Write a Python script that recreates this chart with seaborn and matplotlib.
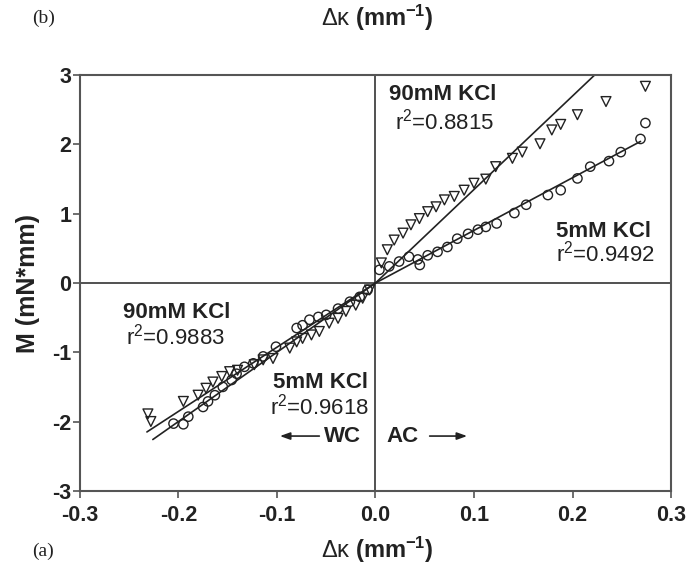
import numpy as np
import pandas as pd
import matplotlib
matplotlib.use("Agg")
import matplotlib.pyplot as plt
import seaborn as sns

# ---- data ----
# 90 mM KCl, positive curvature (triangles)
tri_pos_x = [0.274, 0.234, 0.205, 0.188, 0.179, 0.167, 0.149, 0.139, 0.122, 0.112,
             0.100, 0.090, 0.080, 0.070, 0.0615, 0.053, 0.0446, 0.036, 0.028, 0.019,
             0.012, 0.006]
tri_pos_y = [2.84, 2.62, 2.43, 2.29, 2.21, 2.01, 1.89, 1.80, 1.68, 1.50,
             1.44, 1.34, 1.25, 1.20, 1.10, 1.03, 0.93, 0.84, 0.72, 0.62,
             0.48, 0.29]
# 5 mM KCl, positive curvature (circles)
cir_pos_x = [0.274, 0.269, 0.249, 0.237, 0.218, 0.205, 0.188, 0.175, 0.153, 0.141,
             0.123, 0.112, 0.104, 0.094, 0.083, 0.073, 0.063, 0.053, 0.043, 0.045,
             0.034, 0.024, 0.014, 0.004]
cir_pos_y = [2.31, 2.08, 1.89, 1.76, 1.68, 1.51, 1.34, 1.27, 1.13, 1.01,
             0.86, 0.81, 0.77, 0.71, 0.64, 0.52, 0.45, 0.40, 0.34, 0.26,
             0.38, 0.31, 0.24, 0.19]
# 90 mM KCl, negative curvature (triangles)
tri_neg_x = [-0.231, -0.228, -0.195, -0.180, -0.172, -0.165, -0.156, -0.148, -0.140,
             -0.123, -0.114, -0.104, -0.087, -0.080, -0.074, -0.065, -0.057, -0.047,
             -0.038, -0.030, -0.020, -0.013, -0.006]
tri_neg_y = [-1.89, -2.00, -1.71, -1.62, -1.52, -1.43, -1.35, -1.28, -1.26,
             -1.18, -1.11, -1.09, -0.94, -0.85, -0.80, -0.75, -0.70, -0.58,
             -0.51, -0.41, -0.32, -0.22, -0.10]
# 5 mM KCl, negative curvature (circles)
cir_neg_x = [-0.205, -0.195, -0.190, -0.175, -0.170, -0.163, -0.155, -0.146, -0.141,
             -0.133, -0.124, -0.114, -0.101, -0.080, -0.074, -0.067, -0.058, -0.050,
             -0.038, -0.026, -0.016, -0.008]
cir_neg_y = [-2.03, -2.04, -1.93, -1.79, -1.71, -1.62, -1.50, -1.40, -1.31,
             -1.21, -1.16, -1.06, -0.92, -0.65, -0.61, -0.53, -0.49, -0.46,
             -0.37, -0.27, -0.20, -0.10]

# regression lines (through origin): slope and x-extent
fit_names = ["90mM pos", "5mM pos", "90mM neg", "5mM neg"]
fit_slopes = [13.5, 7.6, 9.27, 10.0]
fit_x_start = [0.0, 0.0, -0.232, -0.226]
fit_x_end = [0.23, 0.269, 0.0, 0.0]

x_ticks = [-0.3, -0.2, -0.1, 0.0, 0.1, 0.2, 0.3]
x_tick_labels = ["-0.3", "-0.2", "-0.1", "0.0", "0.1", "0.2", "0.3"]
y_ticks = [-3, -2, -1, 0, 1, 2, 3]
y_tick_labels = ["-3", "-2", "-1", "0", "1", "2", "3"]

# ---- style ----
sns.set_theme(style="white")
plt.rcParams["font.family"] = ["Liberation Sans", "DejaVu Sans"]
plt.rcParams["mathtext.fontset"] = "custom"
plt.rcParams["mathtext.rm"] = "Liberation Sans"
plt.rcParams["mathtext.it"] = "Liberation Sans:italic"
plt.rcParams["mathtext.bf"] = "Liberation Sans:bold"

fig = plt.figure(figsize=(6.95, 5.70), dpi=100)
ax = fig.add_axes([0.115, 0.139, 0.8505, 0.729])

spine_col = "#555555"
ink = "#222222"
ax.axhline(0, color="#333333", lw=1.2, zorder=1)
ax.axvline(0, color="#333333", lw=1.2, zorder=1)

for xs, ys, mk, sz in [(tri_pos_x, tri_pos_y, "v", 50), (cir_pos_x, cir_pos_y, "o", 45),
                       (tri_neg_x, tri_neg_y, "v", 50), (cir_neg_x, cir_neg_y, "o", 45)]:
    df = pd.DataFrame({"x": xs, "y": ys})
    sns.scatterplot(data=df, x="x", y="y", marker=mk, s=sz, facecolors="none",
                    edgecolor=ink, linewidth=1.0, ax=ax, zorder=3)

for name, k, x0, x1 in zip(fit_names, fit_slopes, fit_x_start, fit_x_end):
    xs = np.array([x0, x1])
    dfl = pd.DataFrame({"x": xs, "y": k * xs})
    sns.lineplot(data=dfl, x="x", y="y", color=ink, lw=1.2, ax=ax, zorder=2)

ax.set_xlim(-0.3, 0.3)
ax.set_ylim(-3, 3)
ax.set_xticks(x_ticks)
ax.set_xticklabels(x_tick_labels)
ax.set_yticks(y_ticks)
ax.set_yticklabels(y_tick_labels)
for lab in ax.get_xticklabels() + ax.get_yticklabels():
    lab.set_fontweight("bold")
    lab.set_fontsize(15.5)
    lab.set_color(ink)
ax.tick_params(axis="both", which="both", direction="out", length=5, width=1.2,
               color=spine_col, bottom=True, left=True)
ax.tick_params(axis="x", pad=5)
ax.tick_params(axis="y", pad=1)
for sp in ax.spines.values():
    sp.set_color(spine_col)
    sp.set_linewidth(1.5)

ax.set_xlabel("")
ax.set_ylabel("M (mN*mm)", fontsize=18, fontweight="bold", labelpad=9, color=ink)

# annotations
bold_kw = dict(fontsize=16, fontweight="bold", color=ink)
reg_kw = dict(fontsize=16, color=ink)
ax.text(0.0135, 2.72, "90mM KCl", ha="left", va="center", **bold_kw)
ax.text(0.0195, 2.33, r"r$^{2}$=0.8815", ha="left", va="center", **reg_kw)
ax.text(0.183, 0.75, "5mM KCl", ha="left", va="center", **bold_kw)
ax.text(0.183, 0.42, r"r$^{2}$=0.9492", ha="left", va="center", **reg_kw)
ax.text(-0.256, -0.43, "90mM KCl", ha="left", va="center", **bold_kw)
ax.text(-0.253, -0.77, r"r$^{2}$=0.9883", ha="left", va="center", **reg_kw)
ax.text(-0.104, -1.43, "5mM KCl", ha="left", va="center", **bold_kw)
ax.text(-0.107, -1.78, r"r$^{2}$=0.9618", ha="left", va="center", **reg_kw)
ax.text(-0.052, -2.21, "WC", ha="left", va="center", **bold_kw)
ax.text(0.011, -2.21, "AC", ha="left", va="center", **bold_kw)
arrow_kw = dict(arrowstyle="-|>,head_length=0.5,head_width=0.18", lw=1.2, color=ink,
                shrinkA=0, shrinkB=0)
ax.annotate("", xy=(-0.097, -2.21), xytext=(-0.057, -2.21), arrowprops=arrow_kw)
ax.annotate("", xy=(0.093, -2.21), xytext=(0.055, -2.21), arrowprops=arrow_kw)

# outer labels
serif = ["Liberation Serif", "DejaVu Serif"]
fig.text(0.046, 0.968, "(b)", ha="left", va="center", fontsize=14, family=serif, color=ink)
fig.text(0.046, 0.032, "(a)", ha="left", va="center", fontsize=14, family=serif, color=ink)
klabel = r"$\mathrm{\Delta\kappa}$ (mm$^{\mathbf{-1}}$)"
fig.text(0.543, 0.968, klabel, ha="center", va="center", fontsize=17,
         fontweight="bold", color=ink)
fig.text(0.543, 0.035, klabel, ha="center", va="center", fontsize=17,
         fontweight="bold", color=ink)

fig.savefig("out.png", dpi=100)
